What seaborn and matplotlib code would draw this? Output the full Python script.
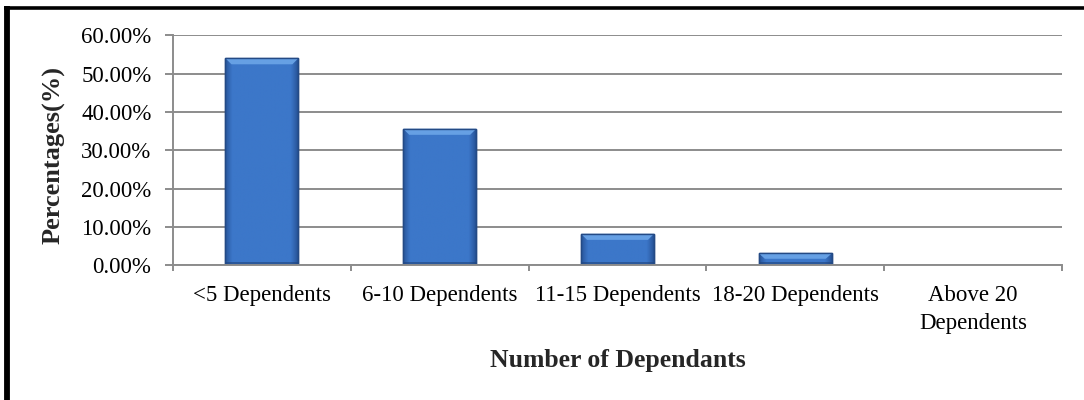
import numpy as np
import pandas as pd
import matplotlib
matplotlib.use("Agg")
import matplotlib.pyplot as plt
from matplotlib.lines import Line2D
from matplotlib.patches import Polygon
from matplotlib.ticker import FuncFormatter, FixedLocator
import seaborn as sns

# Share of respondents by number of dependants
categories = ["<5 Dependents", "6-10 Dependents", "11-15 Dependents",
              "18-20 Dependents", "Above 20\nDependents"]
percentages = [54.0, 35.6, 8.2, 3.1, 0.0]
y_ticks = [0, 10, 20, 30, 40, 50, 60]

sns.set_style("white")
plt.rcParams["font.family"] = ["Liberation Serif", "DejaVu Serif"]

fig = plt.figure(figsize=(10.84, 4.0), dpi=100)
W, H = 1084, 400
ax = fig.add_axes([173 / W, 1 - 265.3 / H, (1062 - 173) / W, (265.3 - 35.3) / H])

df = pd.DataFrame({"category": categories, "pct": percentages})
sns.barplot(data=df, x="category", y="pct", ax=ax, width=0.41,
            color="#3b71c1", edgecolor="#244a85", linewidth=1.0,
            saturation=1, zorder=3)

ax.set_xlim(-0.5, len(categories) - 0.5)
ax.set_ylim(0, 60)

# data units per pixel, for the bevel geometry
px_x = (len(categories)) / (1062 - 173)
px_y = 60 / 230.0

# Bevelled shading on each bar: dark sides, lighter centre, bright top face
prof_x = np.linspace(0, 1, 200)
side = np.clip(np.minimum(prof_x, 1 - prof_x) / 0.10, 0, 1) ** 0.8
base = np.array([0x25, 0x50, 0x93]) / 255
mid = np.array([0x3c, 0x77, 0xc9]) / 255
for patch in list(ax.patches):
    x0, y0 = patch.get_x(), patch.get_y()
    w, h = patch.get_width(), patch.get_height()
    if h <= 0:
        patch.set_linewidth(0)
        continue
    img = base + (mid - base) * side[None, :, None]
    im = ax.imshow(img, extent=(x0, x0 + w, y0, y0 + h), aspect="auto",
                   origin="upper", zorder=4, interpolation="bilinear")
    im.set_clip_path(patch)
    # darker strip along the base
    ax.add_patch(plt.Rectangle((x0, y0), w, 3 * px_y, facecolor="#1f447d",
                               edgecolor="none", alpha=0.6, zorder=5))
    # light top face of the bevel
    bh = min(6 * px_y, h * 0.45)
    bx = 6 * px_x
    ax.add_patch(Polygon([(x0, y0 + h), (x0 + w, y0 + h),
                          (x0 + w - bx, y0 + h - bh), (x0 + bx, y0 + h - bh)],
                         closed=True, facecolor="#66a0e4", edgecolor="none",
                         zorder=5))
    ax.add_patch(plt.Rectangle((x0, y0), w, h, fill=False, edgecolor="#244a85",
                               linewidth=1.0, zorder=6))

ax.yaxis.set_major_locator(FixedLocator(y_ticks))
ax.yaxis.set_major_formatter(FuncFormatter(lambda v, p: f"{v:.2f}%"))
ax.grid(axis="y", color="#8c8c8c", linewidth=1.4, zorder=0)
ax.set_axisbelow(True)

for s in ["top", "right"]:
    ax.spines[s].set_visible(False)
for s in ["left", "bottom"]:
    ax.spines[s].set_color("#8c8c8c")
    ax.spines[s].set_linewidth(1.4)
    ax.spines[s].set_zorder(7)

ax.tick_params(axis="y", which="major", length=5.5, width=1.4, color="#8c8c8c",
               labelsize=16.5, pad=10, labelcolor="black", left=True)
ax.tick_params(axis="x", which="major", length=0, labelsize=16.5, pad=14,
               labelcolor="black")
for lbl in ax.get_xticklabels():
    lbl.set_linespacing(1.45)
ax.set_xticks(np.arange(-0.5, len(categories), 1.0), minor=True)
ax.tick_params(axis="x", which="minor", length=4.5, width=1.4, color="#8c8c8c",
               bottom=True)
ax.set_xlabel("")
ax.set_ylabel("")

fig.text(54 / W, 1 - 155 / H, "Percentages(%)", rotation=90, ha="center",
         va="center", fontsize=19, fontweight="bold")
fig.text(617.5 / W, 1 - 366.7 / H, "Number of Dependants", ha="center",
         va="baseline", fontsize=18.5, fontweight="bold")

# Frame lines along the top and left edges
fig.add_artist(Line2D([4 / W, 1], [1 - 7.5 / H, 1 - 7.5 / H], color="black",
                      linewidth=2.6, solid_capstyle="butt",
                      transform=fig.transFigure))
fig.add_artist(Line2D([7 / W, 7 / W], [0, 1 - 6 / H], color="black",
                      linewidth=4.2, solid_capstyle="butt",
                      transform=fig.transFigure))

fig.savefig("out.png", dpi=100)
